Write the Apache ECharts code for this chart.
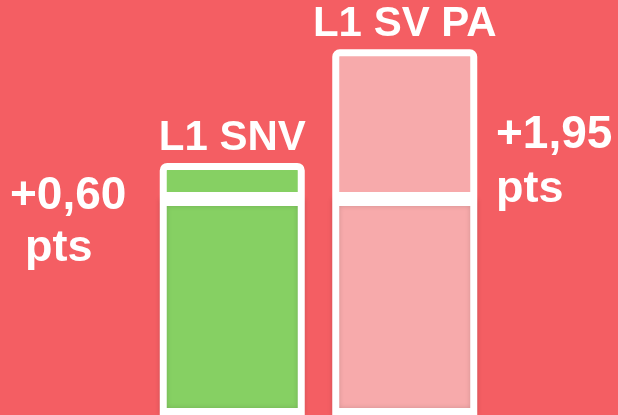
<!DOCTYPE html>
<html>
<head>
<meta charset="utf-8">
<script src="https://cdn.jsdelivr.net/npm/echarts@6/dist/echarts.min.js"></script>
<style>
  html, body { margin: 0; padding: 0; background: #F45E63; }
  #chart { width: 618px; height: 415px; }
</style>
</head>
<body>
<div id="chart"></div>
<script>
// données
const groupes = ['L1 SNV', 'L1 SV PA'];
const base = [2.81, 2.81];
const gain = [0.47, 1.95];
const gainLabels = ['+0,60', '+1,95'];

const couleurs = ['#86D063', '#F7AAAB'];
const fond = '#F45E63';
const police = '"Liberation Sans", Arial, sans-serif';

const chart = echarts.init(document.getElementById('chart'));

// étiquette "+x,xx" puis "pts" sur la ligne suivante
function etiquette(txt, x, y, x2, y2) {
  return [
    {
      type: 'text', x: x, y: y,
      style: { text: txt, fill: '#fff', font: 'bold 46px ' + police, verticalAlign: 'bottom' }
    },
    {
      type: 'text', x: x2, y: y2,
      style: { text: 'pts', fill: '#fff', font: 'bold 45px ' + police, verticalAlign: 'bottom' }
    }
  ];
}

const option = {
  backgroundColor: fond,
  animation: false,
  grid: { left: 146, width: 345, top: 0, bottom: 0 },
  xAxis: {
    type: 'category',
    data: groupes,
    show: false
  },
  yAxis: {
    type: 'value',
    min: 0,
    max: 5.4,
    show: false
  },
  series: [
    {
      type: 'bar',
      stack: 'total',
      barWidth: 145,
      data: base.map((v, i) => ({
        value: v,
        itemStyle: {
          color: couleurs[i],
          borderColor: '#fff',
          borderWidth: 7,
          shadowBlur: 5,
          shadowColor: 'rgba(0,0,0,0.15)'
        }
      }))
    },
    {
      type: 'bar',
      stack: 'total',
      barWidth: 145,
      data: gain.map((v, i) => ({
        value: v,
        itemStyle: {
          color: couleurs[i],
          borderColor: '#fff',
          borderWidth: 7,
          borderRadius: [4, 4, 0, 0]
        }
      })),
      label: {
        show: true,
        position: 'top',
        distance: 4,
        formatter: p => groupes[p.dataIndex],
        color: '#fff',
        fontSize: 42,
        fontWeight: 'bold',
        fontFamily: police
      }
    }
  ],
  graphic: etiquette(gainLabels[0], 10, 219, 25, 271)
    .concat(etiquette(gainLabels[1], 496, 158, 496, 212))
};

chart.setOption(option);
</script>
</body>
</html>
